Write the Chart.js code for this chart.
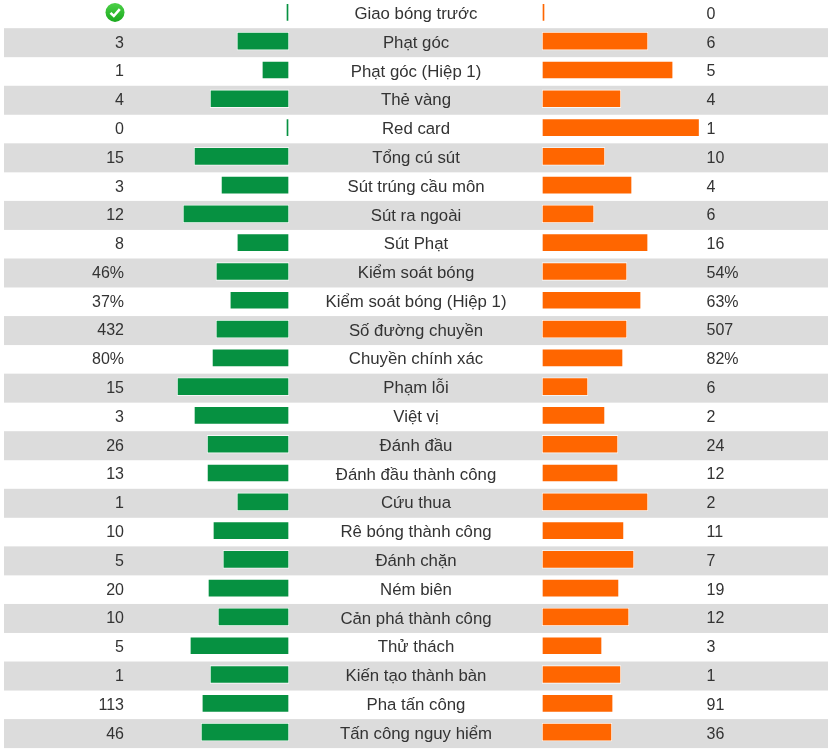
<!DOCTYPE html>
<html>
<head>
<meta charset="utf-8">
<style>
  html, body { margin: 0; padding: 0; background: #fff; overflow: hidden; }
  #statsChart { position: absolute; left: 0; top: -2px; }
</style>
</head>
<body>
<canvas id="statsChart" width="828" height="760"></canvas>
<script src="https://cdn.jsdelivr.net/npm/chart.js@4"></script>
<script>
const categories = ["Giao bóng trước", "Phạt góc", "Phạt góc (Hiệp 1)", "Thẻ vàng", "Red card", "Tổng cú sút",
  "Sút trúng cầu môn", "Sút ra ngoài", "Sút Phạt", "Kiểm soát bóng", "Kiểm soát bóng (Hiệp 1)", "Số đường chuyền",
  "Chuyền chính xác", "Phạm lỗi", "Việt vị", "Đánh đầu", "Đánh đầu thành công", "Cứu thua", "Rê bóng thành công",
  "Đánh chặn", "Ném biên", "Cản phá thành công", "Thử thách", "Kiến tạo thành bàn", "Pha tấn công", "Tấn công nguy hiểm"];

// printed values, first home entry is the kick-off tick icon
const homeLabels = ["", "3", "1", "4", "0", "15", "3", "12", "8", "46%", "37%", "432", "80%", "15", "3", "26", "13", "1", "10", "5", "20", "10", "5", "1", "113", "46"];
const awayLabels = ["0", "6", "5", "4", "1", "10", "4", "6", "16", "54%", "63%", "507", "82%", "6", "2", "24", "12", "2", "11", "7", "19", "12", "3", "1", "91", "36"];

// bar lengths, percent of the full bar. 0.64 is the hairline shown for zero
const homeShare = [0.64, 32.2, 16.1, 49.5, 0.64, 59.8, 42.4, 66.9, 32.2, 45.7, 36.7, 45.7, 48.2, 70.7, 59.8, 51.4, 51.4, 32.2, 47.6, 41.2, 50.8, 44.4, 62.4, 49.5, 54.7, 55.3];
const awayShare = [0.64, 66.9, 83, 49.5, 100, 39.2, 56.6, 32.2, 66.9, 53.4, 62.4, 53.4, 50.8, 28.3, 39.2, 47.6, 47.6, 66.9, 51.4, 57.9, 48.2, 54.7, 37.3, 49.5, 44.4, 43.7];

const GREEN = "#069141";
const ORANGE = "#ff6600";
const STRIPE = "#dcdcdc";
const TEXT_COLOR = "#333";
const pxPerPercent = 1.555;
const homeBaseX = 288;
const awayBaseX = 543;
const chartWidth = 828;

function drawCheckIcon(ctx, x, y) {
  const grad = ctx.createLinearGradient(0, y - 10, 0, y + 10);
  grad.addColorStop(0, "#4fd24a");
  grad.addColorStop(1, "#18a81c");
  ctx.fillStyle = grad;
  ctx.beginPath();
  ctx.arc(x, y, 9.5, 0, Math.PI * 2);
  ctx.fill();
  ctx.strokeStyle = "#fff";
  ctx.lineWidth = 2.6;
  ctx.beginPath();
  ctx.moveTo(x - 4.5, y + 0.5);
  ctx.lineTo(x - 1.2, y + 3.6);
  ctx.lineTo(x + 4.8, y - 3.2);
  ctx.stroke();
}

// grey stripes and the white edge round bars that sit on them
const rowsPlugin = {
  id: "rows",
  beforeDatasetsDraw(chart) {
    const ctx = chart.ctx;
    const yScale = chart.scales.y;
    ctx.save();
    ctx.fillStyle = STRIPE;
    categories.forEach((name, i) => {
      if (i % 2 === 1) {
        ctx.fillRect(4, yScale.getPixelForValue(i) - 13, chartWidth - 4, 29);
      }
    });
    ctx.fillStyle = "#fff";
    chart.data.datasets.forEach((ds, d) => {
      chart.getDatasetMeta(d).data.forEach((bar, i) => {
        if (i % 2 === 1) {
          const left = Math.min(bar.x, bar.base);
          const width = Math.abs(bar.x - bar.base);
          ctx.fillRect(left - 1, bar.y - 9, width + 2, 18);
        }
      });
    });
    ctx.restore();
  }
};

const textPlugin = {
  id: "rowText",
  afterDatasetsDraw(chart) {
    const ctx = chart.ctx;
    const yScale = chart.scales.y;
    ctx.save();
    ctx.fillStyle = TEXT_COLOR;
    ctx.textBaseline = "middle";
    categories.forEach((name, i) => {
      const y = yScale.getPixelForValue(i) + 2;
      ctx.font = '16px "Liberation Sans", Arial, sans-serif';
      ctx.textAlign = "right";
      ctx.fillText(homeLabels[i], 124, y);
      ctx.textAlign = "left";
      ctx.fillText(awayLabels[i], 706.5, y);
      // the centre names run a little wider than plain 16px metrics
      ctx.font = '16.8px "Liberation Sans", Arial, sans-serif';
      ctx.textAlign = "center";
      ctx.fillText(name, 416, y);
    });
    drawCheckIcon(ctx, 115, yScale.getPixelForValue(0));
    ctx.restore();
  }
};

new Chart(document.getElementById("statsChart"), {
  type: "bar",
  data: {
    labels: categories,
    datasets: [
      { label: "Home", data: homeShare, xAxisID: "xHome", backgroundColor: GREEN },
      { label: "Away", data: awayShare, xAxisID: "xAway", backgroundColor: ORANGE }
    ]
  },
  options: {
    indexAxis: "y",
    responsive: false,
    animation: false,
    grouped: false,
    barThickness: 16,
    layout: { padding: { top: 0, right: 0, bottom: 11.5, left: 0 } },
    plugins: { legend: { display: false }, tooltip: { enabled: false } },
    scales: {
      y: { type: "category", display: false, grid: { display: false } },
      xHome: {
        type: "linear",
        display: false,
        reverse: true,
        min: -(chartWidth - homeBaseX) / pxPerPercent,
        max: homeBaseX / pxPerPercent
      },
      xAway: {
        type: "linear",
        display: false,
        min: -awayBaseX / pxPerPercent,
        max: (chartWidth - awayBaseX) / pxPerPercent
      }
    }
  },
  plugins: [rowsPlugin, textPlugin]
});
</script>
</body>
</html>
